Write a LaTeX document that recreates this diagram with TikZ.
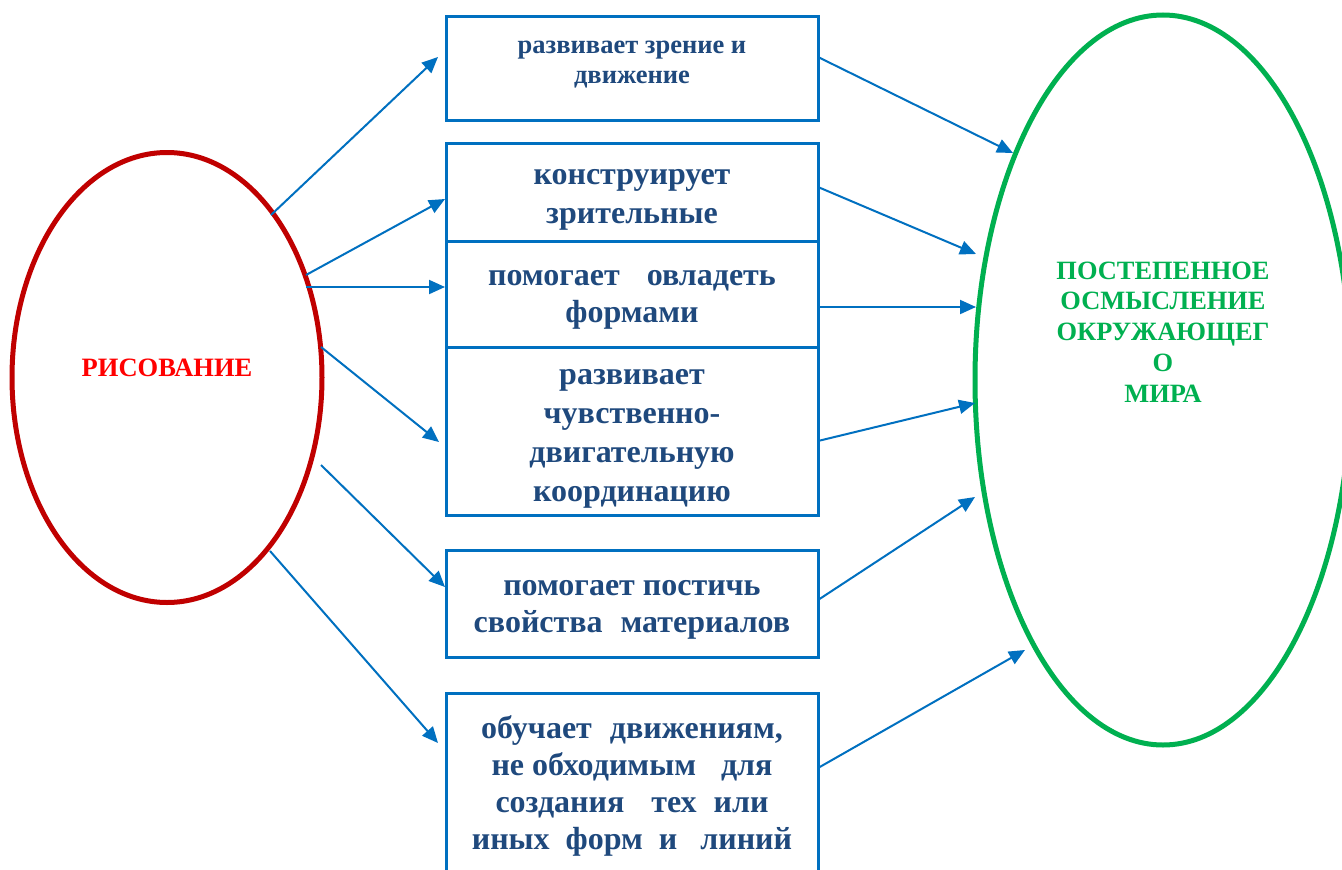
\documentclass[tikz,border=0pt]{standalone}
\usepackage{fontspec}
\setmainfont{Liberation Serif}
\usetikzlibrary{arrows.meta,calc,shapes.geometric}
\definecolor{boxblue}{RGB}{0,112,192}
\definecolor{txtblue}{RGB}{31,73,125}
\definecolor{darkred}{RGB}{192,0,0}
\definecolor{brightred}{RGB}{255,0,0}
\definecolor{grn}{RGB}{0,176,80}
\newcommand\mystrut{\rule[-8.5pt]{0pt}{37pt}}
\newcommand\histrut{\rule[-6pt]{0pt}{37pt}}
\newcommand\smstrut{\rule[-15pt]{0pt}{30pt}}
\begin{document}
\begin{tikzpicture}[x=1pt,y=-1pt,
  box/.style={draw=boxblue,line width=3pt,minimum width=372pt,inner sep=0pt,outer sep=0pt,
    text=txtblue,font=\bfseries\fontsize{32}{37}\selectfont,align=center},
  smallbox/.style={box,font=\bfseries\fontsize{26.5}{30}\selectfont},
  oval/.style={ellipse,line width=5pt,inner sep=0pt,outer sep=0pt},
  arr/.style={draw=boxblue,line width=2pt,-{Triangle[length=16pt,width=14pt]}}]
\useasboundingbox (0,0) rectangle (1342,870);
\clip (0,0) rectangle (1342,870);
\fill[white] (0,0) rectangle (1342,870);

% ellipses
\node[oval,draw=darkred,minimum width=310pt,minimum height=450pt] (L) at (167,377.5) {};
\node[oval,draw=grn,minimum width=376pt,minimum height=730pt] (R) at (1163,380) {};
\node[anchor=base,text=brightred,font=\bfseries\fontsize{26.5}{30}\selectfont,inner sep=0pt] (tl) at (167,376) {РИСОВАНИЕ};
\node[text=grn,font=\bfseries\fontsize{26.4}{30.8}\selectfont,align=center,inner sep=0pt] (tr) at (1163,332)
  {ПОСТЕПЕННОЕ\\ОСМЫСЛЕНИЕ\\ОКРУЖАЮЩЕГ\\О\\МИРА};

% boxes
\node[smallbox,minimum height=104pt] (b1) at (632,68) {\smstrut развивает зрение и\\\smstrut движение};
\node[box,minimum height=98pt] (b2) at (632,192) {\histrut конструирует\\\histrut зрительные};
\node[box,minimum height=106pt] (b3) at (632,294) {\mystrut помогает\hspace{27pt}овладеть\\\mystrut формами};
\node[box,minimum height=168pt] (b4) at (632,431) {\histrut развивает\\\histrut чувственно-\\\histrut двигательную\\\histrut координацию};
\node[box,minimum height=107pt] (b5) at (632,603.5) {\mystrut помогает постичь\\\mystrut свойства\hspace{18pt}материалов};
\node[box,minimum height=182pt] (b6) at (632,784) {\mystrut обучает\hspace{18pt}движениям,\\\mystrut не обходимым\hspace{25pt}для\\\mystrut создания\hspace{27pt}тех\hspace{17pt}или\\\mystrut иных\hspace{16pt}форм\hspace{16pt}и\hspace{23pt}линий};

% arrows from left ellipse
\draw[arr] ($(L.center)+(104,-162.5)$) -- ($(b1.west)+(-8,-11)$);
\draw[arr] ($(L.center)+(139,-102.5)$) -- ($(b2.west)+(-1,7)$);
\draw[arr] ($(L.center)+(139,-90.5)$) -- ($(b3.west)+(-1,-7)$);
\draw[arr] ($(L.center)+(154,-30.5)$) -- ($(b4.west)+(-7,11)$);
\draw[arr] ($(L.center)+(154,87.5)$) -- ($(b5.west)+(-1,-16.5)$);
\draw[arr] ($(L.center)+(103,173.5)$) -- ($(b6.west)+(-8,-41)$);

% arrows to right ellipse
\draw[arr] ($(b1.east)+(0,-11)$) -- ($(R.center)+(-150,-227)$);
\draw[arr] ($(b2.east)+(0,-5)$) -- ($(R.center)+(-187,-126)$);
\draw[arr] ($(b3.east)+(0,13)$) -- ($(R.center)+(-187,-73)$);
\draw[arr] ($(b4.east)+(0,10)$) -- ($(R.center)+(-188,23)$);
\draw[arr] ($(b5.east)+(0,-3.5)$) -- ($(R.center)+(-188,117)$);
\draw[arr] ($(b6.east)+(0,-16)$) -- ($(R.center)+(-138,270)$);
\end{tikzpicture}
\end{document}
